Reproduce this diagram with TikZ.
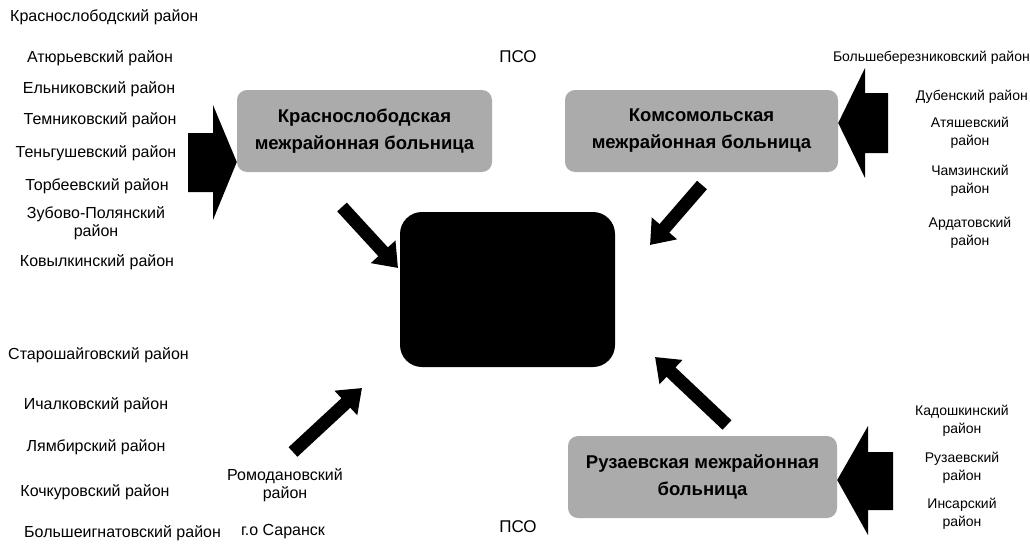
\documentclass[tikz,border=0pt]{standalone}
\usepackage{fontspec}
\setmainfont{Liberation Sans}
\usetikzlibrary{arrows.meta}
\begin{document}
\begin{tikzpicture}[x=1pt,y=-1pt,
  lbl/.style={font=\fontsize{16}{18}\selectfont, inner sep=0pt, align=center},
  lblw/.style={lbl, anchor=west},
  lbls/.style={font=\fontsize{14}{18}\selectfont, inner sep=0pt, align=center},
  hosp/.style={fill=black!33, rounded corners=10pt, font=\bfseries\fontsize{18.5}{27}\selectfont,
     text=black, align=center, inner sep=0pt, minimum height=82pt},
  cbox/.style={fill=black, rounded corners=22pt, minimum width=215pt, minimum height=155pt, inner sep=0pt},
  blockarrow/.style={fill=black},
  diag/.style={draw=black, line width=13pt, -{Triangle[width=32pt,length=22pt]}}
]
\useasboundingbox (0,0) rectangle (1030,546);

% hospitals
\node[hosp, minimum width=255pt] (k1) at (364.5,131) {Краснослободская\\межрайонная больница};
\node[hosp, minimum width=273pt] (k2) at (701.5,131) {Комсомольская\\межрайонная больница};
\node[hosp, minimum width=269pt] (k3) at (702.5,477) {Рузаевская межрайонная\\больница};
\node[cbox] (c) at (507.5,289.5) {};

% PSO labels
\node[font=\fontsize{17}{18}\selectfont, inner sep=0pt] (pso1) at (518,57) {ПСО};
\node[font=\fontsize{17}{18}\selectfont, inner sep=0pt] (pso2) at (518,527) {ПСО};

% left top districts
\node[lblw] (a0) at (10,17) {Краснослободский район};
\node[lbl] (a1) at (100,58) {Атюрьевский район};
\node[lbl] (a2) at (99,89) {Ельниковский район};
\node[lbl] (a3) at (100,120) {Темниковский район};
\node[lbl] (a4) at (96,153) {Теньгушевский район};
\node[lbl] (a5) at (97,186) {Торбеевский район};
\node[lbl] (a6) at (96,223) {Зубово-Полянский\\район};
\node[lbl] (a7) at (97,262) {Ковылкинский район};

% left bottom districts
\node[lblw] (b0) at (8,355) {Старошайговский район};
\node[lbl] (b1) at (96,405) {Ичалковский район};
\node[lbl] (b2) at (96,447) {Лямбирский район};
\node[lbl] (b3) at (95,492) {Кочкуровский район};
\node[lblw] (b4) at (24,533) {Большеигнатовский район};
\node[lbl] (b5) at (285,485) {Ромодановский\\район};
\node[lbl] (b6) at (283,532) {г.о Саранск};

% right top districts
\node[lbls, anchor=east] (r0) at (1030,58) {Большеберезниковский район};
\node[lbls, anchor=east] (r1) at (1028,97) {Дубенский район};
\node[lbls] (r2) at (970,133) {Атяшевский\\район};
\node[lbls] (r3) at (970,181) {Чамзинский\\район};
\node[lbls] (r4) at (970,233) {Ардатовский\\район};

% right bottom districts
\node[lbls] (s1) at (962,421) {Кадошкинский\\район};
\node[lbls] (s2) at (962,468) {Рузаевский\\район};
\node[lbls] (s3) at (962,514) {Инсарский\\район};

% block arrows
\fill[blockarrow] (188,133) -- (213,133) -- (213,105) -- (k1.west |- 0,162) -- (213,220) -- (213,192) -- (188,192) -- cycle;
\fill[blockarrow] (888,93) -- (865,93) -- (865,68) -- (k2.east |- 0,123) -- (865,178) -- (865,153) -- (888,153) -- cycle;
\fill[blockarrow] (893,452) -- (868,452) -- (868,426) -- (k3.east |- 0,480) -- (868,535) -- (868,510) -- (893,510) -- cycle;

% diagonal arrows
\coordinate (t1) at (342,207); \coordinate (h1) at (398,268);
\coordinate (t2) at (702,185); \coordinate (h2) at (650,245);
\coordinate (t3) at (727,425); \coordinate (h3) at (655,357);
\coordinate (t4) at (293,452); \coordinate (h4) at (362,388);
\draw[diag] (t1) -- (h1);
\draw[diag] (t2) -- (h2);
\draw[diag] (t3) -- (h3);
\draw[diag] (t4) -- (h4);
\end{tikzpicture}
\end{document}
